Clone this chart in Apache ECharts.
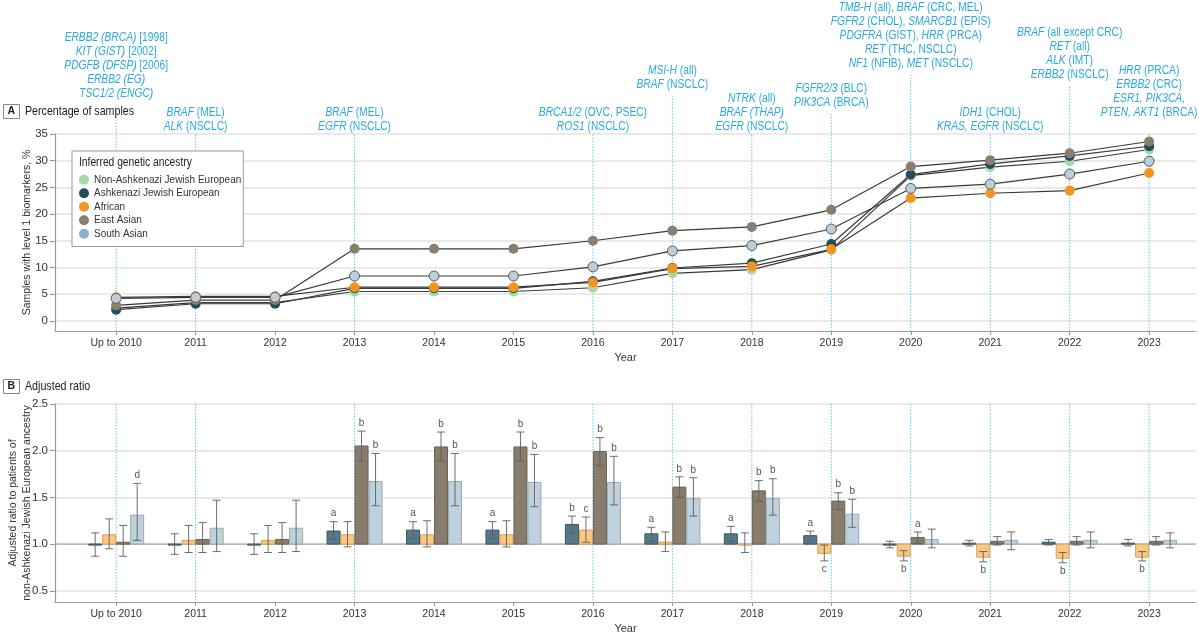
<!DOCTYPE html>
<html><head><meta charset="utf-8">
<script src="https://cdn.jsdelivr.net/npm/echarts@6/dist/echarts.min.js"></script>
<style>html,body{margin:0;padding:0;background:#fff}#c{width:1199px;height:636px}</style>
</head><body><div id="c"></div>
<script>
// ---------------- DATA ----------------
const years = ['Up to 2010','2011','2012','2013','2014','2015','2016','2017','2018','2019','2020','2021','2022','2023'];
const groups = ['Non-Ashkenazi Jewish European','Ashkenazi Jewish European','African','East Asian','South Asian'];

// Panel A: percentage of samples with level 1 biomarkers
const pctNonAJ   = [2.4, 3.4, 3.4, 5.5, 5.5, 5.5, 6.2, 8.9, 9.6, 13.3, 27.2, 28.8, 29.9, 32.1];
const pctAJ      = [2.1, 3.2, 3.2, 6.1, 6.1, 6.1, 7.4, 9.9, 10.8, 14.4, 27.4, 29.4, 30.9, 32.7];
const pctAfrican = [4.4, 4.6, 4.6, 6.3, 6.3, 6.3, 7.2, 9.8, 10.2, 13.4, 23.0, 23.9, 24.4, 27.7];
const pctEastAs  = [2.9, 3.9, 3.9, 13.5, 13.5, 13.5, 15.0, 16.9, 17.6, 20.8, 28.9, 30.1, 31.4, 33.6];
const pctSouthAs = [4.2, 4.4, 4.4, 8.4, 8.4, 8.4, 10.1, 13.1, 14.1, 17.2, 24.8, 25.6, 27.5, 29.9];
const pctTicks = [0, 5, 10, 15, 20, 25, 30, 35];

// Panel B: adjusted ratio (value, lower CI, upper CI, significance letter)
const ratioAJ      = [0.99, 1.00, 1.00, 1.14, 1.15, 1.15, 1.21, 1.11, 1.11, 1.09, 0.99, 1.01, 1.02, 1.01];
const ratioAJLo    = [0.87, 0.89, 0.89, 1.05, 1.06, 1.06, 1.12, 1.03, 1.03, 1.03, 0.96, 0.98, 0.99, 0.98];
const ratioAJHi    = [1.12, 1.11, 1.11, 1.24, 1.24, 1.24, 1.30, 1.18, 1.19, 1.14, 1.03, 1.04, 1.05, 1.05];
const ratioAJSig   = ['', '', '', 'a', 'a', 'a', 'b', 'a', 'a', 'a', '', '', '', ''];

const ratioAf      = [1.10, 1.04, 1.04, 1.10, 1.10, 1.10, 1.15, 1.02, 1.00, 0.90, 0.87, 0.86, 0.85, 0.86];
const ratioAfLo    = [0.95, 0.91, 0.91, 0.97, 0.97, 0.97, 1.02, 0.92, 0.91, 0.82, 0.82, 0.81, 0.80, 0.82];
const ratioAfHi    = [1.27, 1.20, 1.20, 1.24, 1.25, 1.25, 1.29, 1.13, 1.12, 0.99, 0.93, 0.92, 0.91, 0.92];
const ratioAfSig   = ['', '', '', '', '', '', 'c', '', '', 'c', 'b', 'b', 'b', 'b'];

const ratioEA      = [1.02, 1.05, 1.05, 2.05, 2.04, 2.04, 1.99, 1.61, 1.57, 1.46, 1.07, 1.03, 1.03, 1.03];
const ratioEALo    = [0.87, 0.91, 0.91, 1.89, 1.89, 1.89, 1.84, 1.50, 1.46, 1.37, 1.01, 0.99, 0.99, 0.99];
const ratioEAHi    = [1.20, 1.23, 1.23, 2.21, 2.20, 2.20, 2.14, 1.72, 1.68, 1.55, 1.13, 1.08, 1.08, 1.08];
const ratioEASig   = ['', '', '', 'b', 'b', 'b', 'b', 'b', 'b', 'b', 'a', '', '', ''];

const ratioSA      = [1.31, 1.17, 1.17, 1.67, 1.67, 1.66, 1.66, 1.49, 1.49, 1.32, 1.05, 1.04, 1.04, 1.04];
const ratioSALo    = [1.04, 0.92, 0.92, 1.41, 1.41, 1.40, 1.42, 1.30, 1.31, 1.18, 0.96, 0.94, 0.96, 0.96];
const ratioSAHi    = [1.65, 1.47, 1.47, 1.97, 1.97, 1.96, 1.94, 1.71, 1.70, 1.48, 1.16, 1.13, 1.13, 1.12];
const ratioSASig   = ['d', '', '', 'b', 'b', 'b', 'b', 'b', 'b', 'b', '', '', '', ''];
const ratioTicks = [0.5, 1.0, 1.5, 2.0, 2.5];

// Approval annotations (*...* = italic)
const annotYears = ['Up to 2010','2011','2013','2016','2017','2018','2019','2020','2021','2022','2023'];
const annotTexts = [
  ['*ERBB2 (BRCA)* [1998]', '*KIT (GIST)* [2002]', '*PDGFB (DFSP)* [2006]', '*ERBB2 (EG)*', '*TSC1/2 (ENGC)*'],
  ['*BRAF* (MEL)', '*ALK* (NSCLC)'],
  ['*BRAF* (MEL)', '*EGFR* (NSCLC)'],
  ['*BRCA1/2* (OVC, PSEC)', '*ROS1* (NSCLC)'],
  ['*MSI-H* (all)', '*BRAF* (NSCLC)'],
  ['*NTRK* (all)', '*BRAF (THAP)*', '*EGFR* (NSCLC)'],
  ['*FGFR2/3* (BLC)', '*PIK3CA* (BRCA)'],
  ['*TMB-H* (all), *BRAF* (CRC, MEL)', '*FGFR2* (CHOL), *SMARCB1* (EPIS)', '*PDGFRA* (GIST), *HRR* (PRCA)', '*RET* (THC, NSCLC)', '*NF1* (NFIB), *MET* (NSCLC)'],
  ['*IDH1* (CHOL)', '*KRAS, EGFR* (NSCLC)'],
  ['*BRAF* (all except CRC)', '*RET* (all)', '*ALK* (IMT)', '*ERBB2* (NSCLC)'],
  ['*HRR* (PRCA)', '*ERBB2* (CRC)', '*ESR1, PIK3CA,*', '*PTEN, AKT1* (BRCA)']
];

// ---------------- LAYOUT / STYLE ----------------
const annotRaise = [33, 0, 0, 0, 42, 0, 24, 63, 0, 52, 14];   // px above plot top
const annotConnect = [true, true, true, true, true, true, true, true, true, true, false];
const FONT = '"Liberation Sans", Arial, sans-serif';
const NARROW = 0.82;  // horizontal squeeze to imitate the condensed face
const X_MIN = -0.77, X_MAX = 13.59;
const A_MIN = -1.9, A_MAX = 35;
const B_MIN = 0.38, B_MAX = 2.5;
const markerColors = ['#a6d9a1', '#244d5c', '#f7941e', '#8a7e6e', '#bacedb'];
const legendColors = ['#a6d9a1', '#244d5c', '#f7941e', '#8a7e6e', '#8fb1c6'];
const barFill   = ['#55798a', '#fcc77f', '#887c6c', '#bed1dc'];
const barStroke = ['#3b5663', '#d2a25f', '#6a6053', '#98abb6'];
const barOffsets = [-21, -7, 7, 21];
const BAR_W = 13;
const ANNOT_COLOR = '#2aa9e0';
const DOT_COLOR = '#63c6ef';
const TEXT = '#333';

const pctSeries = [pctNonAJ, pctAJ, pctAfrican, pctEastAs, pctSouthAs];
const ratioSets = [
  [ratioAJ, ratioAJLo, ratioAJHi, ratioAJSig],
  [ratioAf, ratioAfLo, ratioAfHi, ratioAfSig],
  [ratioEA, ratioEALo, ratioEAHi, ratioEASig],
  [ratioSA, ratioSALo, ratioSAHi, ratioSASig]
];

function toRich(lines) {
  return lines.map(l => l.split('*').map((s, k) => s ? `{${k % 2 ? 'i' : 'n'}|${s}}` : '').join('')).join('\n');
}
const annotRich = {
  n: {fontSize: 12.5, fontFamily: FONT, fill: ANNOT_COLOR, lineHeight: 14},
  i: {fontSize: 12.5, fontFamily: FONT, fill: ANNOT_COLOR, lineHeight: 14, fontStyle: 'italic'}
};

const xIdx = years.map((_, i) => i);

function xAxisCfg(gridIndex) {
  return {
    type: 'value', gridIndex, min: X_MIN, max: X_MAX,
    name: 'Year', nameLocation: 'middle', nameGap: 21, nameMoveOverlap: false,
    nameTextStyle: {fontSize: 11, fontFamily: FONT, color: TEXT},
    axisLine: {show: true, onZero: false, lineStyle: {color: '#9a9a9a', width: 1.2}},
    axisTick: {show: true, length: 4, customValues: xIdx, lineStyle: {color: '#9a9a9a'}},
    axisLabel: {customValues: xIdx, formatter: v => years[Math.round(v)], fontSize: 10.5, fontFamily: FONT, color: TEXT, margin: 7},
    splitLine: {show: false}
  };
}

const series = [];

// Panel A dotted connectors + annotations
series.push({
  type: 'custom', xAxisIndex: 0, yAxisIndex: 0, z: 1, silent: true, clip: false,
  data: annotYears.map((y, j) => [years.indexOf(y), j]),
  renderItem: (params, api) => {
    const i = api.value(0), j = api.value(1);
    const b = api.coord([i, A_MIN]);
    const t = api.coord([i, A_MAX]);
    const textBottom = t[1] - annotRaise[j];
    const lineTop = annotConnect[j] ? Math.min(textBottom + 4, t[1]) : t[1];
    return {type: 'group', children: [
      {type: 'line', shape: {x1: b[0], y1: b[1], x2: b[0], y2: lineTop},
       style: {stroke: DOT_COLOR, lineWidth: 1, lineDash: [1.5, 1.5]}},
      {type: 'text', x: t[0], y: textBottom, scaleX: NARROW,
       style: {x: 0, y: 0, text: toRich(annotTexts[j]), rich: annotRich,
       align: 'center', verticalAlign: 'bottom', fontSize: 12.5, fontFamily: FONT, fill: ANNOT_COLOR, lineHeight: 14}}
    ]};
  }
});

// Panel A lines
groups.forEach((g, k) => {
  series.push({
    type: 'line', name: g, xAxisIndex: 0, yAxisIndex: 0, z: 3 + k,
    data: pctSeries[k].map((v, i) => [i, v]),
    symbol: 'circle', symbolSize: 10, showSymbol: true,
    lineStyle: {color: '#3a3a3a', width: 1.2},
    itemStyle: {color: markerColors[k], borderColor: k === 4 ? '#5a5a5a' : markerColors[k], borderWidth: k === 4 ? 1 : 0},
    emphasis: {disabled: true}
  });
});

// Panel B dotted lines
series.push({
  type: 'custom', xAxisIndex: 1, yAxisIndex: 1, z: 1, silent: true,
  data: annotYears.map(y => [years.indexOf(y)]),
  renderItem: (params, api) => {
    const i = api.value(0);
    const t = api.coord([i, B_MAX]), b = api.coord([i, B_MIN]);
    return {type: 'line', shape: {x1: t[0], y1: t[1], x2: b[0], y2: b[1]},
            style: {stroke: DOT_COLOR, lineWidth: 1, lineDash: [1.5, 1.5]}};
  }
});
// Panel B reference line at 1.0
series.push({
  type: 'custom', xAxisIndex: 1, yAxisIndex: 1, z: 2, silent: true,
  data: [[1]],
  renderItem: (params, api) => {
    const l = api.coord([X_MIN, api.value(0)]), r = api.coord([X_MAX, api.value(0)]);
    return {type: 'line', shape: {x1: l[0], y1: l[1], x2: r[0], y2: r[1]}, style: {stroke: '#ababab', lineWidth: 1.2}};
  }
});

// Panel B bars with CI
ratioSets.forEach((set, k) => {
  const [vals, lo, hi, sig] = set;
  series.push({
    type: 'custom', xAxisIndex: 1, yAxisIndex: 1, z: 3 + k, silent: true,
    data: vals.map((v, i) => [i, v, lo[i], hi[i]]),
    renderItem: (params, api) => {
      const i = api.value(0), v = api.value(1);
      const base = api.coord([i, 1]), top = api.coord([i, v]);
      const cx = base[0] + barOffsets[k];
      const yLo = api.coord([i, api.value(2)])[1], yHi = api.coord([i, api.value(3)])[1];
      const y1 = Math.min(base[1], top[1]);
      const h = Math.max(Math.abs(base[1] - top[1]), 1);
      const es = {stroke: '#5e5e5e', lineWidth: 1, opacity: 0.9};
      const children = [
        {type: 'rect', shape: {x: cx - BAR_W / 2, y: y1, width: BAR_W, height: h},
         style: {fill: barFill[k], stroke: barStroke[k], lineWidth: 1}},
        {type: 'line', shape: {x1: cx, y1: yLo, x2: cx, y2: yHi}, style: es},
        {type: 'line', shape: {x1: cx - 4, y1: yLo, x2: cx + 4, y2: yLo}, style: es},
        {type: 'line', shape: {x1: cx - 4, y1: yHi, x2: cx + 4, y2: yHi}, style: es}
      ];
      const s = sig[params.dataIndex];
      if (s) {
        const above = v >= 1;
        children.push({type: 'text', style: {x: cx, y: above ? yHi - 3 : yLo + 3, text: s,
          align: 'center', verticalAlign: above ? 'bottom' : 'top', fontSize: 10, fontFamily: FONT, fill: '#555'}});
      }
      return {type: 'group', children};
    }
  });
});

function label(x, y, text, size) {
  return {type: 'text', x, y, scaleX: NARROW, z: 100,
    style: {x: 0, y: 0, text, fontSize: size, fontFamily: FONT, fill: '#222', verticalAlign: 'middle'}};
}

const option = {
  animation: false,
  backgroundColor: '#fff',
  grid: [
    {left: 55, right: 3, top: 134, height: 197, outerBoundsMode: 'none', containLabel: false},
    {left: 55, right: 3, top: 404, height: 198, outerBoundsMode: 'none', containLabel: false}
  ],
  xAxis: [xAxisCfg(0), xAxisCfg(1)],
  yAxis: [
    {type: 'value', gridIndex: 0, min: A_MIN, max: A_MAX,
     name: 'Samples with level 1 biomarkers, %', nameLocation: 'middle', nameGap: 22, nameRotate: 90, nameMoveOverlap: false,
     nameTextStyle: {fontSize: 10.5, fontFamily: FONT, color: TEXT},
     axisLine: {show: true, onZero: false, lineStyle: {color: '#9a9a9a', width: 1.2}},
     axisTick: {show: true, length: 5, customValues: pctTicks, lineStyle: {color: '#9a9a9a'}},
     axisLabel: {customValues: pctTicks, fontSize: 11.5, fontFamily: FONT, color: TEXT, margin: 7},
     splitLine: {show: true, lineStyle: {color: '#e3e3e3', width: 1.5}}},
    {type: 'value', gridIndex: 1, min: B_MIN, max: B_MAX,
     name: 'Adjusted ratio to patients of\nnon-Ashkenazi Jewish European ancestry', nameLocation: 'middle', nameGap: 21, nameRotate: 90, nameMoveOverlap: false,
     nameTextStyle: {fontSize: 10.5, fontFamily: FONT, color: TEXT, lineHeight: 14},
     axisLine: {show: true, onZero: false, lineStyle: {color: '#9a9a9a', width: 1.2}},
     axisTick: {show: true, length: 5, customValues: ratioTicks, lineStyle: {color: '#9a9a9a'}},
     axisLabel: {customValues: ratioTicks, formatter: v => v.toFixed(1), fontSize: 11.5, fontFamily: FONT, color: TEXT, margin: 7},
     splitLine: {show: true, lineStyle: {color: '#e3e3e3', width: 1.5}}}
  ],
  legend: {
    orient: 'vertical', left: 72, top: 151, padding: [22, 2, 6, 7],
    itemGap: 0, itemWidth: 10, itemHeight: 10, icon: 'circle',
    borderColor: '#9a9a9a', borderWidth: 1, backgroundColor: '#fff',
    selectedMode: false,
    textStyle: {fontSize: 10, fontFamily: FONT, color: TEXT, lineHeight: 13.5, height: 13.5},
    data: groups.map((g, k) => ({name: g, itemStyle: {color: legendColors[k], borderWidth: 0}}))
  },
  graphic: [
    {type: 'rect', left: 3, top: 104, shape: {width: 16, height: 14}, style: {fill: '#fff', stroke: '#888', lineWidth: 1}},
    {type: 'text', x: 7.5, y: 111, style: {x: 0, y: 0, text: 'A', font: 'bold 10.5px ' + FONT, fill: '#222', verticalAlign: 'middle'}},
    label(25, 111, 'Percentage of samples', 13),
    {type: 'rect', left: 3, top: 379, shape: {width: 16, height: 14}, style: {fill: '#fff', stroke: '#888', lineWidth: 1}},
    {type: 'text', x: 7.5, y: 386, style: {x: 0, y: 0, text: 'B', font: 'bold 10.5px ' + FONT, fill: '#222', verticalAlign: 'middle'}},
    label(25, 386, 'Adjusted ratio', 13),
    label(79, 163, 'Inferred genetic ancestry', 12.5)
  ],
  series
};

const chart = echarts.init(document.getElementById('c'));
chart.setOption(option);
</script>
</body></html>
